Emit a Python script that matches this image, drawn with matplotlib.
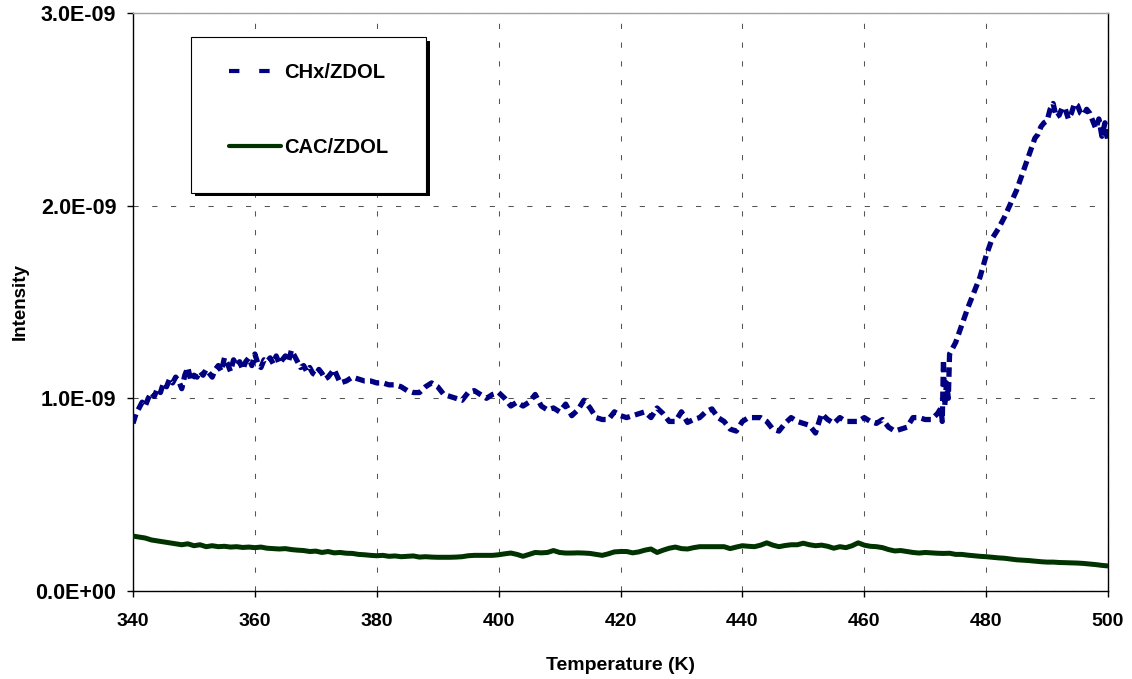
import numpy as np
import matplotlib.pyplot as plt
from matplotlib.lines import Line2D
from matplotlib.patches import Rectangle
from matplotlib.ticker import FuncFormatter

plt.rcParams['font.family'] = ['Liberation Sans', 'DejaVu Sans']
plt.rcParams['font.weight'] = 'bold'

# temperatures (K): denser sampling where the CHx trace is noisy
temp_chx = (list(np.arange(340, 372.5, 0.5)) + list(range(373, 473))
            + [472.6, 472.8, 473.0, 473.2, 473.5, 473.8]
            + list(range(474, 488)) + list(np.arange(488, 500.5, 0.5)))
temp_cac = list(range(340, 501))

# CHx/ZDOL intensity, units of 1e-9
chx = [0.87, 0.92, 0.95, 0.98, 0.96, 1.00, 1.03, 1.01, 1.05, 1.03,
       1.08, 1.06, 1.10, 1.08, 1.11, 1.09, 1.05, 1.12, 1.16, 1.09,
       1.12, 1.11, 1.14, 1.12, 1.15, 1.13, 1.11, 1.15, 1.17, 1.14,
       1.21, 1.18, 1.14, 1.20, 1.17, 1.19, 1.15, 1.19, 1.21, 1.17,
       1.23, 1.18, 1.16, 1.20, 1.19, 1.21, 1.18, 1.22, 1.18, 1.20,
       1.22, 1.19, 1.25, 1.22, 1.19, 1.16, 1.17, 1.14, 1.16, 1.13,
       1.12, 1.15, 1.13, 1.10, 1.11,
       1.15, 1.08, 1.09, 1.11, 1.10, 1.09, 1.09,
       1.08, 1.08, 1.07, 1.07, 1.06, 1.04, 1.03, 1.03, 1.06, 1.08,
       1.06, 1.02, 1.01, 1.00, 0.99, 1.03, 1.04, 1.02, 1.00, 1.02,
       1.03, 1.00, 0.96, 0.98, 0.96, 0.98, 1.02, 0.96, 0.94, 0.95,
       0.93, 0.97, 0.91, 0.94, 0.99, 0.95, 0.90, 0.89, 0.89, 0.93,
       0.91, 0.90, 0.91, 0.92, 0.93, 0.90, 0.95, 0.92, 0.88, 0.88,
       0.93, 0.875, 0.89, 0.90, 0.93, 0.945, 0.90, 0.88, 0.84, 0.83,
       0.88, 0.90, 0.90, 0.90, 0.88, 0.84, 0.83, 0.87, 0.90, 0.88,
       0.87, 0.86, 0.82, 0.92, 0.89, 0.87, 0.90, 0.88, 0.88, 0.88,
       0.90, 0.88, 0.87, 0.89, 0.85, 0.83, 0.84, 0.85, 0.90, 0.90,
       0.89, 0.89, 0.92,
       0.95, 0.88, 1.20, 0.96, 1.08, 1.00,
       1.23, 1.29, 1.38, 1.47, 1.55, 1.63, 1.74, 1.83, 1.88, 1.94,
       2.01, 2.08, 2.17, 2.26,
       2.35, 2.37, 2.41, 2.43, 2.44, 2.50, 2.53, 2.46, 2.47, 2.51,
       2.50, 2.45, 2.48, 2.53, 2.52, 2.48, 2.47, 2.50, 2.48, 2.44,
       2.40, 2.45, 2.36, 2.43, 2.33]

# CAC/ZDOL intensity, units of 1e-9
cac = [0.285, 0.28, 0.275, 0.265, 0.26, 0.255, 0.25, 0.245, 0.24, 0.245,
       0.235, 0.24, 0.23, 0.235, 0.23, 0.232, 0.228, 0.23, 0.226, 0.228,
       0.225, 0.228, 0.222, 0.22, 0.218, 0.22, 0.215, 0.212, 0.21, 0.205,
       0.207, 0.20, 0.205, 0.198, 0.20, 0.196, 0.195, 0.19, 0.188, 0.185,
       0.183, 0.185, 0.18, 0.182, 0.178, 0.18, 0.182, 0.176, 0.178, 0.176,
       0.175, 0.175, 0.175, 0.176, 0.178, 0.183, 0.185, 0.185, 0.185, 0.185,
       0.188, 0.193, 0.197, 0.19, 0.18, 0.19, 0.20, 0.198, 0.20, 0.21,
       0.20, 0.197, 0.197, 0.198, 0.197, 0.195, 0.19, 0.185, 0.193, 0.203,
       0.205, 0.205, 0.198, 0.203, 0.212, 0.218, 0.20, 0.212, 0.222, 0.228,
       0.22, 0.218, 0.225, 0.23, 0.23, 0.23, 0.23, 0.23, 0.22, 0.228,
       0.235, 0.232, 0.23, 0.238, 0.25, 0.238, 0.23, 0.236, 0.24, 0.24,
       0.248, 0.24, 0.235, 0.238, 0.232, 0.222, 0.23, 0.225, 0.235, 0.25,
       0.238, 0.232, 0.23, 0.225, 0.215, 0.208, 0.21, 0.205, 0.20, 0.197,
       0.20, 0.198, 0.196, 0.195, 0.196, 0.19, 0.19, 0.186, 0.183, 0.18,
       0.178, 0.175, 0.172, 0.17, 0.166, 0.162, 0.16, 0.158, 0.155, 0.152,
       0.15, 0.15, 0.148, 0.147, 0.146, 0.145, 0.143, 0.14, 0.137, 0.133,
       0.13]

chx = np.array(chx) * 1e-9
cac = np.array(cac) * 1e-9

navy = '#000080'
green = '#003300'

fig = plt.figure(figsize=(11.32, 6.79), dpi=100)
ax = fig.add_axes([0.1175, 0.1296, 0.8613, 0.8513])

ax.plot(temp_cac, cac, color=green, lw=3.6, solid_capstyle='round', zorder=3)
ax.plot(temp_chx, chx, color=navy, lw=3.8, linestyle=(0, (1.8, 1.0)),
        dash_capstyle='butt', zorder=4)

ax.set_xlim(340, 500)
ax.set_ylim(0, 3e-9)
ax.set_xticks(range(340, 501, 20))
ax.set_yticks([0, 1e-9, 2e-9, 3e-9])
ax.yaxis.set_major_formatter(FuncFormatter(lambda v, p: f"{v:.1E}"))

ax.grid(True, color='#555555', lw=0.75, linestyle=(0, (5, 13)))
ax.set_axisbelow(True)
for s in ['left', 'bottom', 'right']:
    ax.spines[s].set_color('black')
    ax.spines[s].set_linewidth(1.0)
ax.spines['top'].set_color('#a0a0a0')
ax.spines['top'].set_linewidth(1.0)

ax.tick_params(axis='both', direction='out', length=4, width=1)
ax.tick_params(axis='x', pad=12, labelsize=14)
ax.tick_params(axis='y', pad=8, labelsize=15.5)

ax.set_xlabel('Temperature (K)', fontsize=14, fontweight='bold', labelpad=19)
ax.set_ylabel('Intensity', fontsize=13.5, fontweight='bold', labelpad=5)

# legend box with black shadow
fr = Rectangle((0.0595, 0.689), 0.2415, 0.269, transform=ax.transAxes,
               facecolor='white', edgecolor='black', lw=0.8, zorder=6)
sh = Rectangle((0.0595 + 0.004, 0.689 - 0.0065), 0.2415, 0.269,
               transform=ax.transAxes, facecolor='black', edgecolor='black',
               lw=0, zorder=5)
ax.add_patch(sh)
ax.add_patch(fr)

handles = [Line2D([], [], color=navy, lw=3.0, linestyle=(0, (2.5, 4.75)), dash_capstyle='butt'),
           Line2D([], [], color=green, lw=3.0, solid_capstyle='round')]
leg = ax.legend(handles, ['CHx/ZDOL', 'CAC/ZDOL'], loc='upper left',
                bbox_to_anchor=(0.0985, 0.914), frameon=False, borderpad=0,
                borderaxespad=0, handlelength=2.6, handletextpad=0.15,
                labelspacing=2.8, prop={'size': 14.5, 'weight': 'bold'})
leg.set_zorder(7)

fig.savefig('out.png', dpi=100)
